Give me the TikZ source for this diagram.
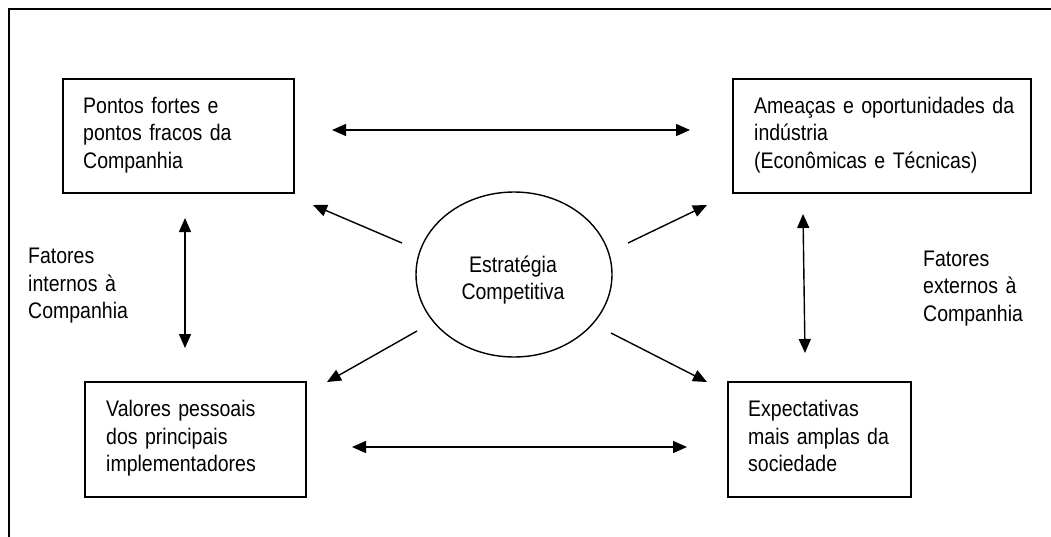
\documentclass[tikz,border=0pt]{standalone}
\usepackage{fontspec}
\setmainfont{Liberation Sans}[FakeStretch=0.867]
\usetikzlibrary{arrows.meta,shapes.geometric}

\tikzset{
  boxnode/.style={draw, line width=1.4pt, rectangle, inner sep=0pt},
  txtfont/.style={font=\fontsize{22.5}{27.5}\selectfont},
  label/.style={txtfont, anchor=base west, inner sep=0pt, text width=330pt, align=left},
  conn/.style={line width=1.4pt, -{Triangle[length=14pt,width=12pt]}},
  bothconn/.style={line width=1.4pt, {Triangle[length=14pt,width=12pt]}-{Triangle[length=14pt,width=12pt]}},
}

\begin{document}
\begin{tikzpicture}[x=1pt, y=-1pt]
  \useasboundingbox (0,0) rectangle (1051,536);
  \clip (0,0) rectangle (1051,536);

  % outer frame (runs off the right and bottom edges)
  \draw[line width=1.6pt] (9,545) -- (9,9) -- (1060,9);

  % the four factor boxes
  \node[boxnode, minimum width=231pt, minimum height=114pt] (forcas)  at (178.5,136) {};
  \node[boxnode, minimum width=298pt, minimum height=114pt] (ameacas) at (882,136) {};
  \node[boxnode, minimum width=221pt, minimum height=115pt] (valores) at (195.5,439.5) {};
  \node[boxnode, minimum width=183pt, minimum height=115pt] (expect)  at (819.5,439.5) {};

  \node[label] (forcasTxt)  at (83,113)  {Pontos fortes e\\pontos fracos da\\Companhia};
  \node[label] (ameacasTxt) at (754,113) {Ameaças e oportunidades da\\indústria\\(Econômicas e Técnicas)};
  \node[label] (valoresTxt) at (106,416.5) {Valores pessoais\\dos principais\\implementadores};
  \node[label] (expectTxt)  at (748,416.5) {Expectativas\\mais amplas da\\sociedade};

  % side labels
  \node[label] (internos) at (28,263.5)  {Fatores\\internos à\\Companhia};
  \node[label] (externos) at (923,266)   {Fatores\\externos à\\Companhia};

  % central ellipse
  \node[draw, line width=1.4pt, ellipse, minimum width=196pt, minimum height=165pt, inner sep=0pt]
    (estrategia) at (514,274.5) {};
  \node[txtfont, anchor=base, inner sep=0pt, text width=200pt, align=center]
    (estrategiaTxt) at (513,272) {Estratégia\\Competitiva};

  % connector end points
  \coordinate (hTopL) at (332,130);   \coordinate (hTopR) at (690,130);
  \coordinate (hBotL) at (352,447);   \coordinate (hBotR) at (687,447);
  \coordinate (vLeftT) at (185,218);  \coordinate (vLeftB) at (185,348);
  \coordinate (vRightT) at (803,214); \coordinate (vRightB) at (805,353);

  \coordinate (ulS) at (402,243); \coordinate (ulE) at (313,205);
  \coordinate (urS) at (628,243); \coordinate (urE) at (707,205);
  \coordinate (llS) at (417,331); \coordinate (llE) at (327,382);
  \coordinate (lrS) at (611,333); \coordinate (lrE) at (707,382);

  % two-way links between the boxes
  \draw[bothconn] (hTopL) -- (hTopR);
  \draw[bothconn] (hBotL) -- (hBotR);
  \draw[bothconn] (vLeftT) -- (vLeftB);
  \draw[bothconn] (vRightT) -- (vRightB);

  % strategy pointing out to each box
  \draw[conn] (ulS) -- (ulE);
  \draw[conn] (urS) -- (urE);
  \draw[conn] (llS) -- (llE);
  \draw[conn] (lrS) -- (lrE);
\end{tikzpicture}
\end{document}
